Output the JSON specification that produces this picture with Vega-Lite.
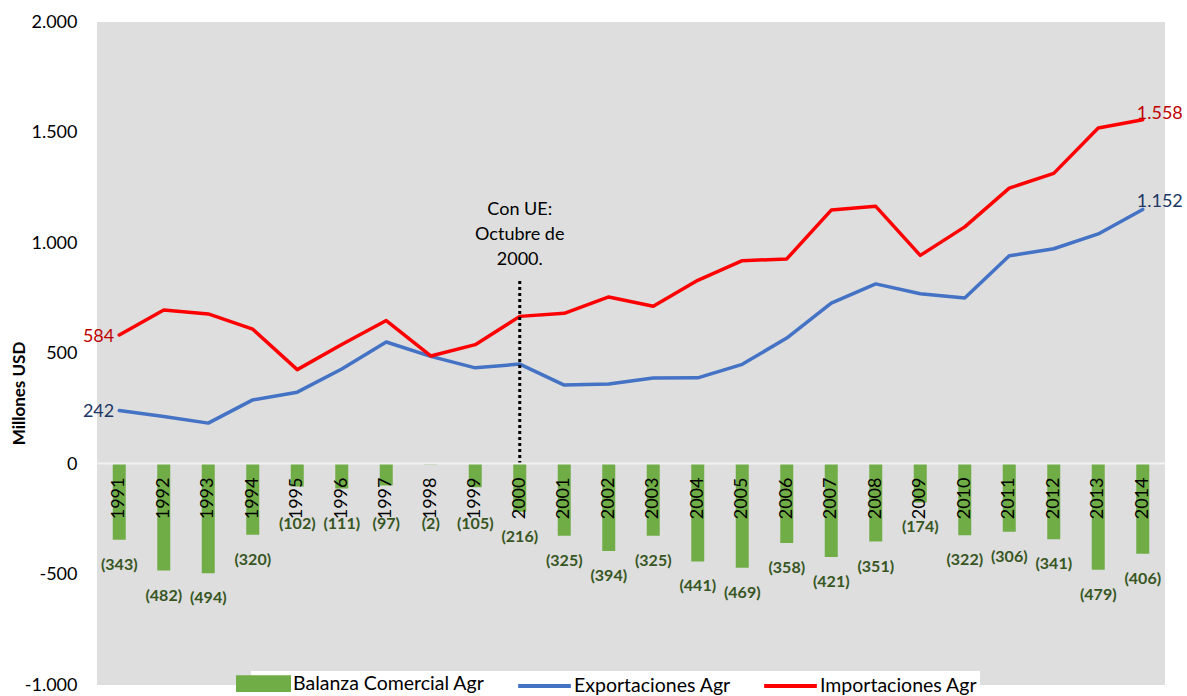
{
  "$schema": "https://vega.github.io/schema/vega-lite/v6.json",
  "width": 1068,
  "height": 663,
  "autosize": "none",
  "padding": {"left": 97, "top": 22, "right": 22, "bottom": 11},
  "background": "white",
  "config": {
    "locale": {"number": {"decimal": ",", "thousands": ".", "grouping": [3], "currency": ["", ""], "minus": "-"}},
    "view": {"fill": "#dedede", "stroke": null},
    "font": "Lato"
  },
  "data": {"values": [
    {"Año": "1991", "Balanza": -343, "Exportaciones": 242, "Importaciones": 584},
    {"Año": "1992", "Balanza": -482, "Exportaciones": 215, "Importaciones": 697},
    {"Año": "1993", "Balanza": -494, "Exportaciones": 185, "Importaciones": 679},
    {"Año": "1994", "Balanza": -320, "Exportaciones": 290, "Importaciones": 610},
    {"Año": "1995", "Balanza": -102, "Exportaciones": 325, "Importaciones": 427},
    {"Año": "1996", "Balanza": -111, "Exportaciones": 430, "Importaciones": 541},
    {"Año": "1997", "Balanza": -97, "Exportaciones": 552, "Importaciones": 649},
    {"Año": "1998", "Balanza": -2, "Exportaciones": 487, "Importaciones": 489},
    {"Año": "1999", "Balanza": -105, "Exportaciones": 435, "Importaciones": 540},
    {"Año": "2000", "Balanza": -216, "Exportaciones": 452, "Importaciones": 668},
    {"Año": "2001", "Balanza": -325, "Exportaciones": 357, "Importaciones": 682},
    {"Año": "2002", "Balanza": -394, "Exportaciones": 362, "Importaciones": 756},
    {"Año": "2003", "Balanza": -325, "Exportaciones": 389, "Importaciones": 714},
    {"Año": "2004", "Balanza": -441, "Exportaciones": 390, "Importaciones": 831},
    {"Año": "2005", "Balanza": -469, "Exportaciones": 451, "Importaciones": 920},
    {"Año": "2006", "Balanza": -358, "Exportaciones": 570, "Importaciones": 928},
    {"Año": "2007", "Balanza": -421, "Exportaciones": 728, "Importaciones": 1149},
    {"Año": "2008", "Balanza": -351, "Exportaciones": 815, "Importaciones": 1166},
    {"Año": "2009", "Balanza": -174, "Exportaciones": 770, "Importaciones": 944},
    {"Año": "2010", "Balanza": -322, "Exportaciones": 751, "Importaciones": 1073},
    {"Año": "2011", "Balanza": -306, "Exportaciones": 942, "Importaciones": 1248},
    {"Año": "2012", "Balanza": -341, "Exportaciones": 974, "Importaciones": 1315},
    {"Año": "2013", "Balanza": -479, "Exportaciones": 1041, "Importaciones": 1520},
    {"Año": "2014", "Balanza": -406, "Exportaciones": 1152, "Importaciones": 1558}
  ]},
  "encoding": {
    "x": {
      "field": "Año",
      "type": "nominal",
      "sort": null,
      "scale": {"paddingInner": 0, "paddingOuter": 0},
      "axis": {
        "title": null,
        "orient": "bottom",
        "offset": -222,
        "zindex": 1,
        "labelAngle": -90,
        "labelPadding": 14,
        "ticks": false,
        "grid": false,
        "domainColor": "#f2f2f2",
        "domainWidth": 2,
        "labelFont": "Lato",
        "labelFontSize": 18,
        "labelColor": "black"
      }
    }
  },
  "layer": [
    {
      "mark": {"type": "bar", "size": 13},
      "encoding": {
        "y": {
          "field": "Balanza",
          "type": "quantitative",
          "title": "Millones USD",
          "scale": {"domain": [-1000, 2000], "nice": false, "zero": false},
          "axis": {
            "values": [-1000, -500, 0, 500, 1000, 1500, 2000],
            "format": ",d",
            "domain": false,
            "ticks": false,
            "grid": false,
            "labelPadding": 20,
            "labelFont": "Lato",
            "labelFontSize": 18,
            "labelColor": "black",
            "titleFont": "Lato",
            "titleFontSize": 17,
            "titleFontWeight": "bold",
            "titleColor": "black",
            "titleX": -78,
            "titleY": 371,
            "titleBaseline": "middle"
          }
        },
        "color": {
          "datum": "Balanza Comercial Agr",
          "scale": {
            "domain": ["Balanza Comercial Agr", "Exportaciones Agr", "Importaciones Agr"],
            "range": ["#70AD47", "#4472C4", "#FF0000"]
          },
          "legend": {
            "title": null,
            "orient": "none",
            "direction": "horizontal",
            "legendX": 154,
            "legendY": 649,
            "padding": 2,
            "fillColor": "white",
            "symbolSize": 289,
            "labelFont": "Lato",
            "labelFontSize": 19.5,
            "labelLimit": 400,
            "labelColor": "black",
            "labelOffset": 19,
            "columnPadding": 25,
            "encode": {
              "symbols": {
                "update": {
                  "shape": {"signal": "datum.value == 'Balanza Comercial Agr' ? 'M-3,-0.75H3V0.75H-3Z' : 'M-3.1,0H3.1'"},
                  "fill": {"signal": "datum.value == 'Balanza Comercial Agr' ? '#70AD47' : 'transparent'"},
                  "stroke": {"signal": "datum.value == 'Balanza Comercial Agr' ? 'transparent' : scale('color', datum.value)"},
                  "strokeWidth": {"value": 4},
                  "opacity": {"value": 1},
                  "fillOpacity": {"value": 1},
                  "strokeOpacity": {"value": 1}
                }
              }
            }
          }
        }
      }
    },
    {
      "mark": {"type": "line", "strokeWidth": 3.5, "strokeJoin": "round", "strokeCap": "round"},
      "encoding": {
        "y": {"field": "Exportaciones", "type": "quantitative", "title": "Millones USD"},
        "color": {"datum": "Exportaciones Agr"}
      }
    },
    {
      "mark": {"type": "line", "strokeWidth": 3.5, "strokeJoin": "round", "strokeCap": "round"},
      "encoding": {
        "y": {"field": "Importaciones", "type": "quantitative", "title": "Millones USD"},
        "color": {"datum": "Importaciones Agr"}
      }
    },
    {
      "mark": {"type": "text", "font": "Lato", "fontWeight": "bold", "fontSize": 16, "color": "#375623", "baseline": "middle", "dy": {"expr": "max(25, 60 + datum.Balanza * 0.221)"}},
      "encoding": {
        "y": {"field": "Balanza", "type": "quantitative", "title": "Millones USD"},
        "text": {"field": "Balanza", "type": "quantitative", "format": "(,d"}
      }
    },
    {
      "transform": [{"filter": "datum['Año'] == '1991'"}],
      "mark": {"type": "text", "font": "Lato", "fontSize": 18, "color": "#C00000", "align": "right", "baseline": "middle", "dx": -5, "dy": 2},
      "encoding": {
        "y": {"field": "Importaciones", "type": "quantitative", "title": "Millones USD"},
        "text": {"field": "Importaciones", "type": "quantitative", "format": ",d"}
      }
    },
    {
      "transform": [{"filter": "datum['Año'] == '1991'"}],
      "mark": {"type": "text", "font": "Lato", "fontSize": 18, "color": "#203864", "align": "right", "baseline": "middle", "dx": -5, "dy": 1},
      "encoding": {
        "y": {"field": "Exportaciones", "type": "quantitative", "title": "Millones USD"},
        "text": {"field": "Exportaciones", "type": "quantitative", "format": ",d"}
      }
    },
    {
      "transform": [{"filter": "datum['Año'] == '2014'"}],
      "mark": {"type": "text", "font": "Lato", "fontSize": 18, "color": "#C00000", "align": "left", "baseline": "middle", "dx": -6, "dy": -6},
      "encoding": {
        "y": {"field": "Importaciones", "type": "quantitative", "title": "Millones USD"},
        "text": {"field": "Importaciones", "type": "quantitative", "format": ",d"}
      }
    },
    {
      "transform": [{"filter": "datum['Año'] == '2014'"}],
      "mark": {"type": "text", "font": "Lato", "fontSize": 18, "color": "#203864", "align": "left", "baseline": "middle", "dx": -6, "dy": -7},
      "encoding": {
        "y": {"field": "Exportaciones", "type": "quantitative", "title": "Millones USD"},
        "text": {"field": "Exportaciones", "type": "quantitative", "format": ",d"}
      }
    },
    {
      "transform": [{"filter": "datum['Año'] == '2000'"}],
      "mark": {"type": "rule", "color": "black", "strokeWidth": 3, "strokeDash": [3, 3]},
      "encoding": {
        "y": {"datum": 828, "type": "quantitative"},
        "y2": {"datum": 2}
      }
    },
    {
      "transform": [{"filter": "datum['Año'] == '2000'"}],
      "mark": {"type": "text", "font": "Lato", "fontSize": 18, "color": "black", "align": "center", "baseline": "bottom", "lineHeight": 25, "dy": -62, "text": ["Con UE:", "Octubre de", "2000."]},
      "encoding": {
        "y": {"datum": 828, "type": "quantitative"}
      }
    }
  ]
}
